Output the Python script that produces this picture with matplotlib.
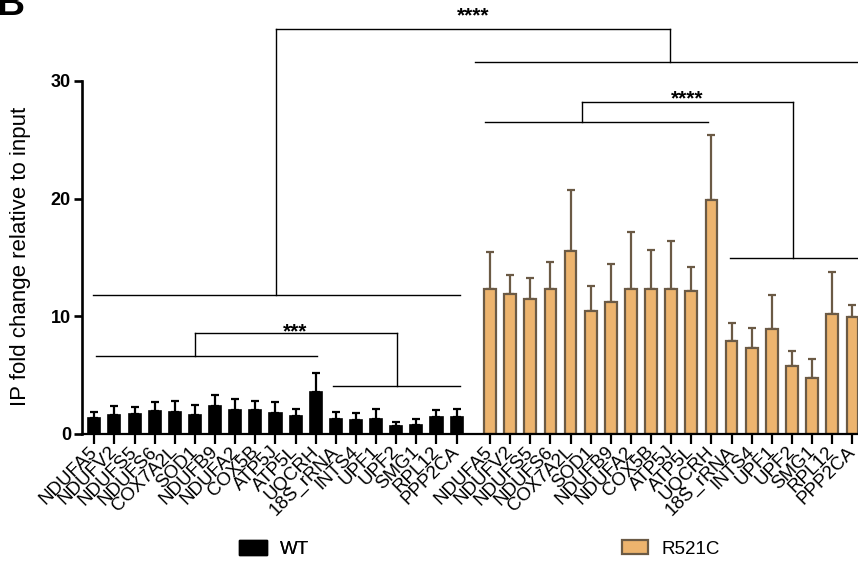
import matplotlib
matplotlib.use('Agg')
import matplotlib.pyplot as plt
import matplotlib.patches as mpatches
import numpy as np

plt.rcParams['font.family'] = ['Liberation Sans', 'DejaVu Sans']

# ---------------- data ----------------
genes = ['NDUFA5', 'NDUFV2', 'NDUFS5', 'NDUFS6', 'COX7A2L', 'SOD1', 'NDUFB9',
         'NDUFA2', 'COX5B', 'ATP5J', 'ATP5L', 'UQCRH', '18S_rRNA', 'INTS4',
         'UPF1', 'UPF2', 'SMG1', 'RPL12', 'PPP2CA']

wt_mean = [1.36, 1.61, 1.73, 1.95, 1.84, 1.64, 2.41, 2.01, 2.04, 1.81,
           1.50, 3.54, 1.27, 1.16, 1.30, 0.71, 0.79, 1.47, 1.47]
wt_err = [0.51, 0.80, 0.54, 0.74, 0.94, 0.80, 0.90, 0.94, 0.79, 0.91,
          0.60, 1.67, 0.57, 0.60, 0.82, 0.28, 0.46, 0.60, 0.63]

r521c_mean = [12.36, 11.93, 11.48, 12.30, 15.53, 10.46, 11.25, 12.36, 12.30,
              12.36, 12.16, 19.92, 7.88, 7.34, 8.96, 5.76, 4.74, 10.17, 9.98]
r521c_err = [3.08, 1.59, 1.75, 2.32, 5.18, 2.12, 3.23, 4.84, 3.34, 4.05,
             2.04, 5.50, 1.56, 1.70, 2.83, 1.27, 1.64, 3.57, 0.96]

group_labels = ['WT', 'R521C']

# ---------------- style ----------------
wt_color = 'black'
mut_color = '#EDB46E'
mut_edge = '#6B5A45'

fig = plt.figure(figsize=(8.58, 5.64), dpi=100)
ax = fig.add_axes([82 / 858, 130 / 564, 776 / 858, 434 / 564])

wt_x = np.arange(len(genes))
mut_x = np.arange(len(genes)) + 19.66

ax.errorbar(wt_x, wt_mean, yerr=[np.zeros(len(genes)), wt_err], fmt='none',
            ecolor=wt_color, elinewidth=1.6, capsize=3, capthick=1.6, zorder=1)
ax.bar(wt_x, wt_mean, width=0.6, color=wt_color, edgecolor=wt_color,
       linewidth=1.2, zorder=2)

ax.errorbar(mut_x, r521c_mean, yerr=[np.zeros(len(genes)), r521c_err],
            fmt='none', ecolor=mut_edge, elinewidth=1.6, capsize=3,
            capthick=1.6, zorder=1)
ax.bar(mut_x, r521c_mean, width=0.58, color=mut_color, edgecolor=mut_edge,
       linewidth=1.6, zorder=2)

ax.set_xlim(-0.611, 37.94)
ax.set_ylim(0, 36.87)

# axes look (GraphPad style)
for s in ['top', 'right']:
    ax.spines[s].set_visible(False)
ax.spines['left'].set_bounds(0, 30)
ax.spines['left'].set_linewidth(1.9)
ax.spines['bottom'].set_linewidth(1.6)

ax.set_yticks([0, 10, 20, 30])
ax.set_yticklabels(['0', '10', '20', '30'], fontsize=13, fontweight='bold')
ax.tick_params(axis='y', length=6, width=1.9, pad=2)

ax.set_xticks(np.concatenate([wt_x, mut_x]))
ax.set_xticklabels(genes + genes, rotation=45, ha='right', va='center',
                   rotation_mode='anchor', fontsize=13.5)
ax.tick_params(axis='x', length=7, width=1.6, pad=4)

ax.set_ylabel('IP fold change relative to input', fontsize=16)
ax.yaxis.set_label_coords(-0.066, 0.41)

# ---------------- significance brackets ----------------
lw = 1.0
def hline(x1, x2, y):
    ax.plot([x1, x2], [y, y], color='black', lw=lw, clip_on=False, zorder=3)

def vline(x, y1, y2):
    ax.plot([x, x], [y1, y2], color='black', lw=lw, clip_on=False, zorder=3)

# WT internal comparison
hline(0.07, 11.05, 6.63)
hline(11.87, 18.16, 4.08)
vline(5.0, 6.63, 8.55)
vline(15.02, 4.08, 8.55)
hline(5.0, 15.02, 8.55)
ax.text(10.0, 8.24, '***', ha='center', va='baseline', fontsize=15,
        fontweight='bold')

# R521C internal comparison
hline(19.41, 30.5, 26.48)
hline(31.58, 37.94, 14.95)
vline(24.21, 26.48, 28.18)
vline(34.69, 14.95, 28.18)
hline(24.21, 34.69, 28.18)
ax.text(29.45, 28.04, '****', ha='center', va='baseline', fontsize=15,
        fontweight='bold')

# WT vs R521C
hline(-0.05, 18.16, 11.81)
hline(18.91, 37.94, 31.6)
vline(9.03, 11.81, 34.37)
vline(28.6, 31.6, 34.37)
hline(9.03, 28.6, 34.37)
ax.text(18.8, 35.04, '****', ha='center', va='baseline', fontsize=15,
        fontweight='bold', clip_on=False)

# panel letter (cut off at the top in the original)
fig.text(-0.004, 1 - 15 / 564, 'B', fontsize=28, fontweight='bold',
         ha='left', va='baseline')

# ---------------- legend ----------------
wt_patch = mpatches.Patch(facecolor=wt_color, edgecolor=wt_color, label=group_labels[0])
mut_patch = mpatches.Patch(facecolor=mut_color, edgecolor=mut_edge,
                           linewidth=1.6, label=group_labels[1])
leg1 = fig.legend(handles=[wt_patch], loc='center left',
                  bbox_to_anchor=(239 / 858, 1 - 549 / 564), frameon=False,
                  borderpad=0, borderaxespad=0, handlelength=1.5,
                  handleheight=0.9, handletextpad=0.7, fontsize=13.5)
leg2 = fig.legend(handles=[mut_patch], loc='center left',
                  bbox_to_anchor=(622 / 858, 1 - 549 / 564), frameon=False,
                  borderpad=0, borderaxespad=0, handlelength=1.4,
                  handleheight=0.75, handletextpad=0.7, fontsize=13.5)
fig.add_artist(leg1)

fig.savefig('out.png', dpi=100)
